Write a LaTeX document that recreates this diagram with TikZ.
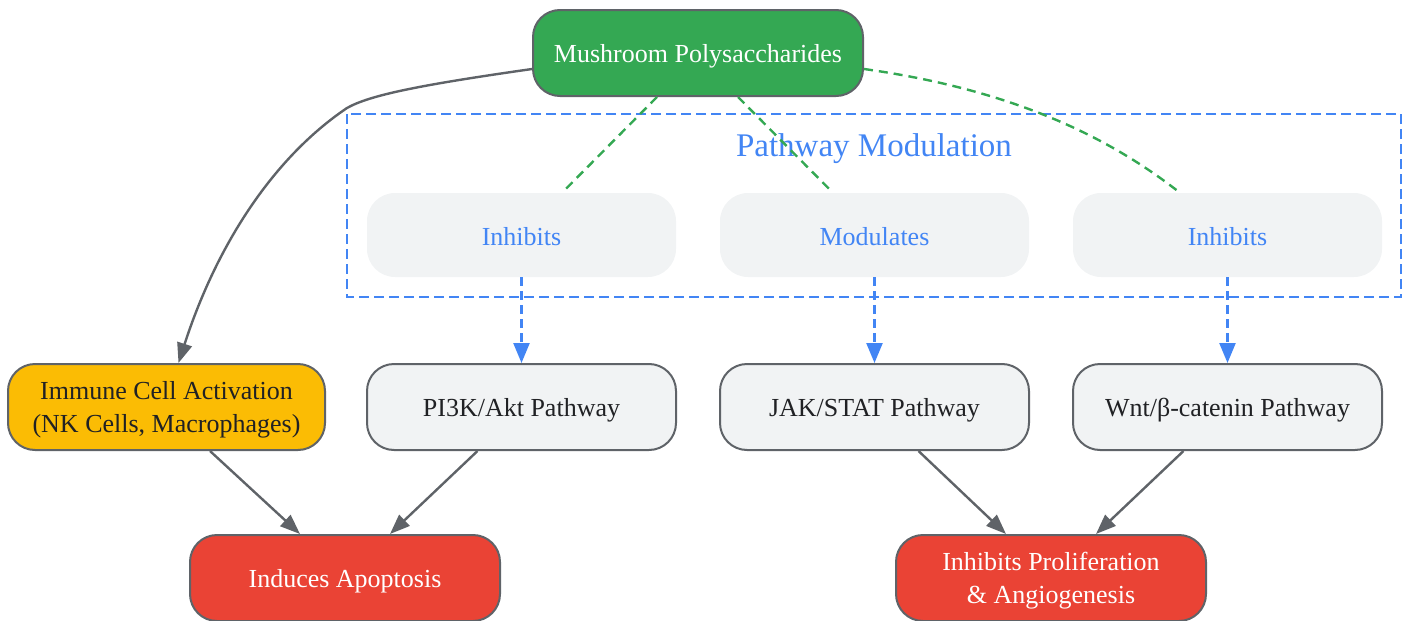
\documentclass[tikz,border=0pt]{standalone}
\usepackage{fontspec}
\setmainfont{Liberation Serif}
\usetikzlibrary{arrows.meta}
\definecolor{ggreen}{HTML}{34A853}
\definecolor{gborder}{HTML}{5F6368}
\definecolor{gyellow}{HTML}{FBBC04}
\definecolor{gred}{HTML}{EA4335}
\definecolor{glight}{HTML}{F1F3F4}
\definecolor{gblue}{HTML}{4285F4}
\definecolor{gtext}{HTML}{202124}
\tikzset{
  box/.style={draw=gborder, line width=2pt, rounded corners=27pt, align=center,
    minimum height=86pt, inner sep=0pt, text depth=0pt,
    font=\fontsize{26}{32.5}\selectfont},
  stepnode/.style={fill=glight, rounded corners=28pt, minimum width=309pt,
    minimum height=84pt, inner sep=0pt, text height=20pt, text depth=0pt, text=gblue, font=\fontsize{26}{32}\selectfont},
  cluster/.style={draw=gblue, line width=2pt, dash pattern=on 10pt off 5pt},
  flow/.style={draw=gborder, line width=2.4pt, -{Triangle[length=20pt,width=15pt]}},
  greenlink/.style={draw=ggreen, line width=2.4pt, dash pattern=on 9pt off 6pt},
  bluelink/.style={draw=gblue, line width=2.4pt, dash pattern=on 9pt off 5pt,
    -{Triangle[length=20pt,width=16pt]}},
}
\begin{document}
\begin{tikzpicture}[x=1pt,y=-1pt]
\useasboundingbox (0,0) rectangle (1409,621);
% cluster
\draw[cluster] (347,114) rectangle (1401,297);
\node[text=gblue, text depth=0pt, font=\fontsize{33}{40}\selectfont] (ctitle) at (874,145) {Pathway Modulation};
% nodes
\node[box, fill=ggreen, text=white, minimum width=330pt] (mush) at (698,53) {Mushroom Polysaccharides};
\node[stepnode] (inh1) at (521.5,235) {Inhibits};
\node[stepnode] (mod) at (874.5,235) {Modulates};
\node[stepnode] (inh3) at (1227.5,235) {Inhibits};
\node[box, fill=gyellow, text=gtext, minimum width=317pt] (immune) at (166.5,407) {Immune Cell Activation\\(NK Cells, Macrophages)};
\node[box, fill=glight, text=gtext, minimum width=309pt] (pi3k) at (521.5,407) {PI3K/Akt Pathway};
\node[box, fill=glight, text=gtext, minimum width=309pt] (jak) at (874.5,407) {JAK/STAT Pathway};
\node[box, fill=glight, text=gtext, minimum width=309pt] (wnt) at (1227.5,407) {Wnt/β-catenin Pathway};
\node[box, fill=gred, text=white, minimum width=310pt] (apop) at (345,578) {Induces Apoptosis};
\node[box, fill=gred, text=white, minimum width=310pt] (prolif) at (1051,578) {Inhibits Proliferation\\\& Angiogenesis};
% edges
\draw[flow] ([yshift=-16pt]mush.west) .. controls (420,85) and (370,95) .. (347,108)
  .. controls (270,160) and (215,250) .. ([xshift=12pt]immune.north);
\draw[greenlink] ([xshift=-41pt]mush.south) -- ([xshift=40.5pt]inh1.north);
\draw[greenlink] ([xshift=40pt]mush.south) -- ([xshift=-41.5pt]mod.north);
\draw[greenlink] ([yshift=-16pt]mush.east) .. controls (1000,88) and (1100,130) .. ([xshift=-47.5pt]inh3.north);
\draw[bluelink] (inh1.south) -- (pi3k.north);
\draw[bluelink] (mod.south) -- (jak.north);
\draw[bluelink] (inh3.south) -- (wnt.north);
\draw[flow] ([xshift=43.5pt]immune.south) -- ([xshift=-45pt]apop.north);
\draw[flow] ([xshift=-44pt]pi3k.south) -- ([xshift=45pt]apop.north);
\draw[flow] ([xshift=44pt]jak.south) -- ([xshift=-45pt]prolif.north);
\draw[flow] ([xshift=-44pt]wnt.south) -- ([xshift=45pt]prolif.north);
\end{tikzpicture}
\end{document}
